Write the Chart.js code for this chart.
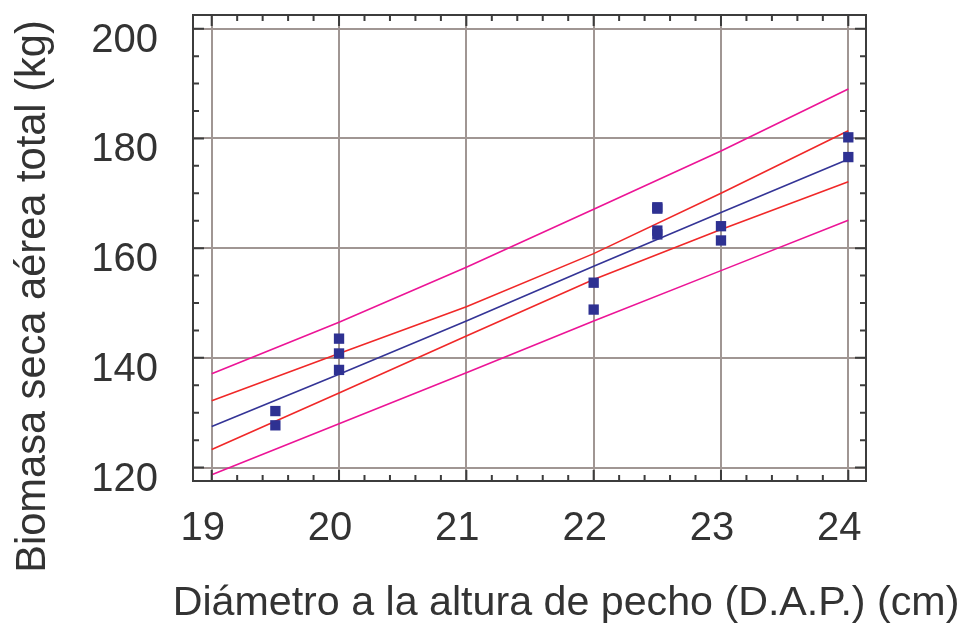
<!DOCTYPE html>
<html>
<head>
<meta charset="utf-8">
<script src="https://cdn.jsdelivr.net/npm/chart.js@4.4.1/dist/chart.umd.min.js"></script>
<style>
html,body{margin:0;padding:0;background:#fff;}
canvas{display:block;}
</style>
</head>
<body>
<canvas id="c" width="967" height="624"></canvas>
<script>
// ---- data ----
const xTicks = [19, 20, 21, 22, 23, 24];
const yTicks = [120, 140, 160, 180, 200];

const obsX = [19.5, 19.5, 20, 20, 20, 22, 22, 22.5, 22.5, 22.5, 22.5, 23, 23, 24, 24];
const obsY = [130.3, 127.7, 143.5, 140.8, 137.8, 153.7, 148.8, 167.45, 167.2, 163.2, 162.5, 164.0, 161.4, 180.2, 176.6];

const lineX     = [19, 20, 21, 22, 23, 24];
const fitY      = [127.5, 137.0, 146.7, 156.7, 166.5, 176.2];
const confUpper = [132.2, 140.8, 149.3, 159.0, 170.0, 181.4];
const confLower = [123.3, 133.6, 144.0, 154.3, 163.4, 172.1];
const predUpper = [137.1, 146.5, 156.5, 167.1, 177.7, 189.0];
const predLower = [118.7, 128.0, 137.3, 146.7, 155.9, 165.1];

const xTitle = 'Diámetro a la altura de pecho (D.A.P.) (cm)';
const yTitle = 'Biomasa seca aérea total (kg)';

// ---- styles ----
const TEXT = '#333333';
const FRAME = '#3c3c3c';
const GRID = 'rgb(160,150,147)';
const FONT = '"Liberation Sans", Arial, Helvetica, sans-serif';
const BLUE = 'rgb(52,52,150)';
const RED = 'rgb(240,40,40)';
const MAG = 'rgb(236,20,150)';
const PT = 'rgb(46,49,146)';

const toXY = (xs, ys) => xs.map((x, i) => ({x: x, y: ys[i]}));
const lineDs = (label, ys, color) => ({
  type: 'line', label: label, data: toXY(lineX, ys), borderColor: color,
  borderWidth: 1.6, pointRadius: 0, fill: false, tension: 0, order: 2
});
const noPad = s => { s.paddingTop = 0; s.paddingBottom = 0; s.paddingLeft = 0; s.paddingRight = 0; };

const framePlugin = {
  id: 'frame',
  afterDraw(chart) {
    const ctx = chart.ctx, a = chart.chartArea;
    const xs = chart.scales.x, ys = chart.scales.y;
    ctx.save();
    ctx.strokeStyle = FRAME;
    ctx.lineWidth = 2;
    ctx.strokeRect(a.left, a.top, a.right - a.left, a.bottom - a.top);
    ctx.beginPath();
    const MAJ = 11, MIN = 6;
    for (let k = 0; k <= 25; k++) {
      const v = xTicks[0] + k * 0.2;
      const p = xs.getPixelForValue(v);
      const len = (k % 5 === 0) ? MAJ : MIN;
      ctx.moveTo(p, a.top); ctx.lineTo(p, a.top + len);
      ctx.moveTo(p, a.bottom); ctx.lineTo(p, a.bottom - len);
    }
    for (let k = 0; k <= 16; k++) {
      const v = yTicks[0] + k * 5;
      const p = ys.getPixelForValue(v);
      const len = (k % 4 === 0) ? MAJ : MIN;
      ctx.moveTo(a.left, p); ctx.lineTo(a.left + len, p);
      ctx.moveTo(a.right, p); ctx.lineTo(a.right - len, p);
    }
    ctx.stroke();
    ctx.fillStyle = TEXT;
    ctx.textAlign = 'center';
    ctx.textBaseline = 'alphabetic';
    ctx.font = '41.2px ' + FONT;
    ctx.fillText(xTitle, 566, 615);
    ctx.font = '41.6px ' + FONT;
    ctx.translate(45, 296.5);
    ctx.rotate(-Math.PI / 2);
    ctx.fillText(yTitle, 0, 0);
    ctx.restore();
  }
};

new Chart(document.getElementById('c'), {
  type: 'scatter',
  data: {
    datasets: [
      lineDs('pred upper', predUpper, MAG),
      lineDs('conf upper', confUpper, RED),
      lineDs('fit', fitY, BLUE),
      lineDs('conf lower', confLower, RED),
      lineDs('pred lower', predLower, MAG),
      {
        type: 'scatter', label: 'obs', data: toXY(obsX, obsY),
        pointStyle: 'rect', pointRadius: 7.3, pointHoverRadius: 7.3,
        backgroundColor: PT, borderColor: PT, borderWidth: 0, order: 1
      }
    ]
  },
  options: {
    responsive: false,
    animation: false,
    devicePixelRatio: 1,
    layout: {padding: {top: 15, right: 101, left: 0, bottom: 0}},
    plugins: {legend: {display: false}, tooltip: {enabled: false}},
    scales: {
      x: {
        type: 'linear', min: 18.853, max: 24.139,
        afterBuildTicks: s => { s.ticks = xTicks.map(v => ({value: v})); },
        afterFit: s => { s.height = 143; noPad(s); },
        grid: {color: GRID, lineWidth: 2, drawTicks: false},
        border: {display: false},
        ticks: {color: TEXT, font: {family: FONT, size: 40}, padding: 24, labelOffset: -9, maxRotation: 0, callback: v => String(v)}
      },
      y: {
        type: 'linear', min: 117.55, max: 202.5,
        afterBuildTicks: s => { s.ticks = yTicks.map(v => ({value: v})); },
        afterFit: s => { s.width = 193; noPad(s); },
        grid: {color: GRID, lineWidth: 2, drawTicks: false},
        border: {display: false},
        ticks: {color: TEXT, font: {family: FONT, size: 40}, padding: 35, labelOffset: 12, callback: v => String(v)}
      }
    }
  },
  plugins: [framePlugin]
});
</script>
</body>
</html>
